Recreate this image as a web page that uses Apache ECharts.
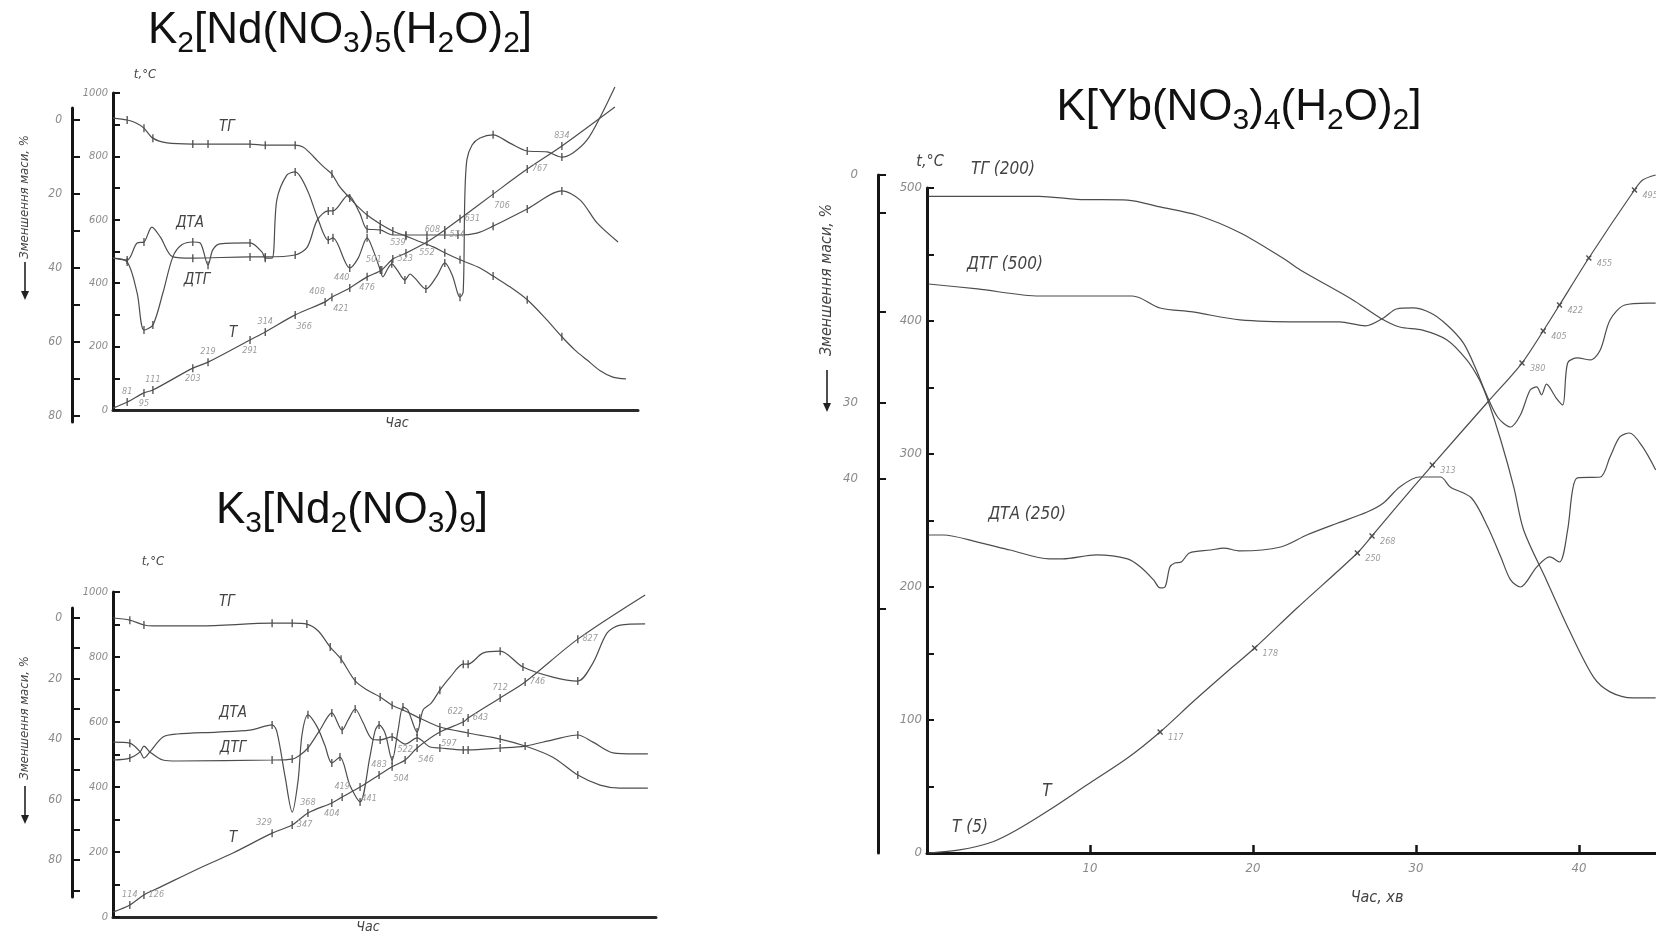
<!DOCTYPE html>
<html><head><meta charset="utf-8">
<script src="https://cdn.jsdelivr.net/npm/echarts@6/dist/echarts.min.js"></script>
<style>html,body{margin:0;padding:0;background:#fff}#c{width:1656px;height:938px}</style>
</head><body><div id="c"></div>
<script>
// ---------- tick labels ----------
const leftTempLabels = [0,200,400,600,800,1000];
const leftMassLabels = [0,20,40,60,80];
const ndMassTicks = [0,10,20,30,40,50,60,70,80];
const nd2MassTicks = [0,10,20,30,40,50,60,70,80,90];
const ybTempLabels = [0,100,200,300,400,500];
const ybMassLabels = [0,30,40];
const ybMassTicks = [0,5,18,30,40,57];
const ybTimeLabels = [10,20,30,40];

// ---------- K2[Nd(NO3)5(H2O)2]  (x: time, arbitrary 0..100; TG in mass %, others on t,°C scale) ----------
const ndTG = [[0,-0.5],[2.7,0,1],[4.4,0.8],[5.9,2.2,1],[7.6,4.9,1],[10.3,6.2],[15.2,6.5,1],[18.1,6.5,1],[26.1,6.5,1],[29.0,6.8,1],[34.7,6.8,1],[36.2,7.3],[37.5,8.9],[39.0,11.1],[40.4,13.0],[41.7,14.6,1],[43.2,18.1],[45.1,21.1,1],[46.7,23.5],[48.4,25.7,1],[50.9,28.1,1],[53.3,30.0,1],[55.8,31.4,1],[58.1,32.7],[61.0,34.3],[63.2,35.9,1],[66.1,37.8,1],[69.9,40.0],[72.4,42.2,1],[75.6,45.1],[78.9,48.6,1],[82.3,53.5],[85.5,58.6,1],[88.0,62.2],[90.3,64.9],[92.8,67.8],[95.2,69.5],[97.7,70.0]];
const ndDTA = [[0,479],[2.7,467,1],[4.6,369],[5.9,252,1],[7.6,268,1],[9.5,369],[11.4,483],[13.1,521],[15.2,530,1],[16.6,527],[18.1,457,1],[19.0,505],[20.4,524],[26.1,527,1],[28.4,498],[29.0,479,1],[30.3,479],[31.2,662],[33.1,741],[34.7,751,1],[37.0,694],[38.9,609],[41.0,536,1],[41.9,543,1],[45.1,448,1],[46.7,479],[48.4,543,1],[49.7,498],[50.9,442,1],[51.4,420],[52.4,448],[53.1,461,1],[54.1,442],[55.6,410,1],[56.6,429],[57.5,416],[59.6,382,1],[61.7,423],[63.2,464,1],[64.6,426],[65.7,366],[66.1,356,1],[66.7,372],[67.0,662],[67.4,789],[68.4,836],[69.9,858],[72.4,868,1],[75.6,842],[78.9,817,1],[82.7,814],[85.5,798,1],[87.6,811],[90.3,852],[92.8,924],[95.6,1019]];
const ndDTG = [[0,479],[2.7,473,1],[4.6,527],[5.9,530,1],[7.4,577],[9.0,546],[11.4,483],[15.2,479,1],[26.1,483,1],[29.0,483,1],[34.7,489,1],[37.0,514],[38.9,599],[41.0,628,1],[41.9,628,1],[44.8,678],[47.0,621],[48.4,571,1],[50.9,568,1],[53.3,552],[55.8,552,1],[59.8,552,1],[63.2,552,'574'],[65.7,552,1],[69.3,558],[72.4,580,1],[78.9,634,1],[85.5,691,1],[89.0,662],[92.2,590],[96.2,530]];
const ndT = [[0,6],[2.7,25,'81'],[5.9,54,'95'],[7.6,63,'111'],[15.2,132,'203'],[18.1,151,'219'],[26.1,221,'291'],[29.0,246,'314'],[34.7,300,'366'],[40.4,341,'408'],[41.7,356,'421'],[45.1,385,'440'],[48.4,420,'476'],[51.2,442,'501'],[53.3,476,'523'],[55.8,495,'539'],[59.8,530,'552'],[63.2,568,'608'],[66.1,603,'631'],[72.4,681,'706'],[78.9,760,'767'],[85.5,833,'834'],[95.6,956]];

// ---------- K3[Nd2(NO3)9] ----------
const nd2TG = [[0,0],[3.1,0.7,1],[5.7,2.3,1],[7.4,2.6],[16.0,2.6],[29.3,1.7,1],[33.0,1.7,1],[35.7,2.0,1],[37.8,4.3],[40.0,9.6,1],[42.0,13.6,1],[44.6,20.8,1],[46.8,23.8],[49.2,26.1,1],[51.4,28.8,1],[53.8,30.7],[56.5,33.1,1],[60.2,36.0,1],[65.4,38.0,1],[71.3,40.0,1],[75.9,42.3,1],[81.0,46.0],[85.6,51.9,1],[89.7,55.2],[93.4,56.2],[98.5,56.2]];
const nd2DTA = [[0,538],[3.1,535,1],[5.0,508],[5.7,489],[6.8,508],[9.2,554],[11.8,563],[19.2,569],[25.2,575],[29.3,591,1],[30.2,569],[31.7,431],[33.0,323],[34.1,422],[34.8,560],[35.9,622,1],[37.6,585],[39.0,529],[40.3,474,1],[41.8,492,1],[43.6,406],[45.5,354,1],[47.3,492],[48.3,575],[49.0,591,1],[50.1,566],[51.4,483,1],[52.5,575],[53.4,646,1],[54.3,637],[56.0,569,1],[57.1,637],[58.6,658],[60.2,698,1],[62.1,738],[64.5,778,1],[65.4,778,1],[68.1,812],[71.3,818,1],[75.5,769,1],[81.0,738],[85.6,726,1],[88.4,782],[91.0,874],[93.4,898],[98.0,902]];
const nd2DTG = [[0,483],[3.1,489,1],[5.0,508],[5.7,526],[6.8,508],[9.2,483],[11.8,480],[29.3,483,1],[33.0,486,1],[34.4,498],[35.9,520,1],[38.1,575],[40.3,628,1],[42.2,575,1],[43.3,606],[44.6,640,1],[46.0,600],[47.7,548],[49.2,545,1],[51.4,554,1],[53.8,532],[56.0,551,1],[58.4,523],[60.2,520,1],[64.5,514,1],[65.4,514,1],[71.3,520,1],[75.9,526],[81.0,545],[85.6,560,1],[88.4,538],[92.1,505],[96.1,502],[98.5,502]];
const nd2T = [[0,15],[3.1,37,'114'],[5.7,68,'126'],[8.7,92],[16.0,151],[22.1,197],[29.3,258,'329'],[33.0,283,'347'],[35.9,320,'368'],[40.3,351,'404'],[42.2,369,'419'],[45.5,400,'441'],[49.0,437,'483'],[51.4,462,'504'],[53.8,483,'522'],[56.0,520,'546'],[60.2,569,'597'],[64.5,600,'622'],[65.4,612,'643'],[71.3,674,'712'],[75.9,723,'746'],[85.6,855,'827'],[98.0,991]];

// ---------- K[Yb(NO3)4(H2O)2]  (x: time, min) ----------
const ybTG = [[0.1,2.8],[6.9,2.8],[9.2,3.2],[12.3,3.3],[14.3,4.2],[16.6,5.3],[19.2,7.6],[21.8,10.9],[22.9,12.5],[26.1,16.4],[27.8,18.8],[29.0,20.0],[30.4,20.4],[31.9,21.7],[33.1,24.3],[33.9,27.0],[34.4,29.6],[35.2,34.9],[36.0,41.1],[36.6,46.7],[38.0,53.3],[39.4,59.9],[40.9,66.1],[41.9,68.0],[43.3,68.8],[44.7,68.8]];
const ybDTG = [[0.1,427.8],[3.1,424.1],[6.9,418.8],[12.6,418.8],[14.3,409.8],[16.3,406.8],[19.2,400.8],[22.9,399.3],[25.3,399.3],[26.9,396.3],[28.0,402.3],[28.8,409.0],[29.8,409.8],[30.9,406.0],[31.9,397.0],[32.9,383.5],[33.7,363.2],[34.2,348.1],[35.0,327.8],[35.8,320.3],[36.4,329.3],[37.0,348.1],[37.4,350.4],[37.7,344.4],[38.0,352.6],[38.6,342.1],[39.0,336.9],[39.3,368.4],[39.9,372.2],[40.7,370.7],[41.3,378.2],[41.9,400.8],[42.8,412.0],[44.2,413.5],[44.7,413.5]];
const ybDTA = [[0.1,239.1],[1.0,239.1],[3.1,233.8],[5.1,227.8],[7.5,221.1],[8.3,221.1],[10.4,224.1],[12.3,221.1],[13.1,215.0],[13.9,205.3],[14.3,199.3],[14.6,200.0],[14.9,215.0],[15.2,218.1],[15.6,218.8],[16.1,225.6],[17.4,227.8],[18.2,229.3],[19.2,227.1],[21.7,230.1],[23.3,239.1],[25.2,248.1],[27.0,256.4],[28.0,263.2],[29.0,275.2],[30.2,282.7],[31.5,282.7],[32.1,275.2],[33.4,266.9],[34.4,245.1],[35.2,222.6],[35.8,205.3],[36.4,200.0],[37.4,215.0],[38.2,222.6],[38.8,218.8],[39.3,242.9],[39.6,272.9],[39.9,282.0],[41.3,282.7],[41.9,297.8],[42.5,312.8],[43.1,315.8],[43.9,305.3],[44.7,288.0]];
const ybT = [[0.1,0],[2.0,2.3],[4.0,8.3],[5.5,17.3],[7.5,32.3],[9.8,51.1],[12.3,71.4],[14.3,91.0,'117'],[16.3,113.5],[18.6,138.3],[20.1,154.1,'178'],[22.7,184.2],[26.4,225.6,'250'],[27.3,238.4,'268'],[28.8,260.2],[31.0,291.7,'313'],[34.4,339.1],[36.5,368.4,'380'],[37.8,392.5,'405'],[38.8,412.0,'422'],[40.6,447.4,'455'],[43.4,498.5,'495'],[43.9,506],[44.7,509.8]];

// ---------- styles ----------
const FONT = "'Liberation Sans Narrow','DejaVu Sans Condensed','DejaVu Sans',sans-serif";
const TFONT = "'Liberation Sans',Arial,sans-serif";
const GRAY = '#8a8a8a';
const LINE = '#4d4d4d';
const AX = '#151515';
const POS = {
  t:{position:'top',distance:2},
  b:{position:'bottom',distance:2},
  r:{position:'right',distance:4},
  l:{position:'left',distance:4},
  tl:{position:'top',distance:2,offset:[-8,0]},
  br:{position:'bottom',distance:3,offset:[9,0]},
  rb:{position:'right',distance:3,offset:[0,6]}
};
const sidesTop = {'81':'t','95':'b','111':'t','203':'b','219':'t','291':'b','314':'t','366':'br','408':'tl','421':'br','440':'tl','476':'b','501':'tl','523':'r','539':'tl','552':'b','574':'r','608':'l','631':'r','706':'br','767':'r','834':'t'};
const sidesBot = {'114':'t','126':'r','329':'tl','347':'r','368':'t','404':'b','419':'t','441':'br','483':'t','504':'br','522':'t','546':'br','597':'br','622':'tl','643':'r','712':'t','746':'r','827':'r'};
const sidesYb = {'117':'rb','178':'rb','250':'rb','268':'rb','313':'rb','380':'rb','405':'rb','422':'rb','455':'rb','495':'rb'};
const DASH = {symbol:'rect', size:[1.3,8]};
const CROSS = {symbol:'path://M4,0L6,0L6,4L10,4L10,6L6,6L6,10L4,10L4,6L0,6L0,4L4,4Z', size:7, rotate:45};

function pts(arr, sides, mark){
  return arr.map(p=>{
    const f=p[2]; const it={value:[p[0],p[1]]};
    if(f){ it.symbol=mark.symbol; it.symbolSize=mark.size; if(mark.rotate!=null) it.symbolRotate=mark.rotate; }
    else it.symbol='none';
    if(typeof f==='string') it.label=Object.assign({show:true,formatter:f},POS[sides[f]||'t']);
    return it;
  });
}
function curve(arr, xi, yi, sides, mark, fs){
  return {type:'line', xAxisIndex:xi, yAxisIndex:yi, data:pts(arr, sides||{}, mark||DASH),
    smooth:0.3, clip:false, silent:true, animation:false, showSymbol:true,
    lineStyle:{color:LINE,width:1.2}, itemStyle:{color:LINE},
    label:{show:false,fontSize:fs||9,color:'#9c9c9c',fontStyle:'italic',fontFamily:FONT},
    emphasis:{disabled:true}};
}
function tempAx(g,min,max,interval,labels,fs){
  return {gridIndex:g,type:'value',min,max,interval,
    axisLine:{show:true,onZero:false,lineStyle:{color:AX,width:3}},
    axisTick:{show:true,inside:true,length:7,lineStyle:{color:AX,width:2}},
    axisLabel:{customValues:labels,color:GRAY,fontStyle:'italic',fontFamily:FONT,fontSize:fs,margin:5,
      formatter:v=>labels.indexOf(v)>=0?String(v):''},
    splitLine:{show:false}};
}
function massAx(g,min,max,ticks,labels,fs,margin){
  return {gridIndex:g,type:'value',inverse:true,min,max,
    axisLine:{show:true,onZero:false,lineStyle:{color:AX,width:3}},
    axisTick:{show:true,inside:true,length:8,customValues:ticks,lineStyle:{color:AX,width:2}},
    axisLabel:{customValues:labels,color:GRAY,fontStyle:'italic',fontFamily:FONT,fontSize:fs,margin:margin||10},
    splitLine:{show:false}};
}
function hiddenY(g,min,max){ return {gridIndex:g,type:'value',show:false,inverse:true,min,max}; }
function hiddenX(g){ return {gridIndex:g,type:'value',show:false,min:0,max:1}; }
function timeAx(g,max){
  return {gridIndex:g,type:'value',min:0,max,
    axisLine:{show:true,onZero:false,lineStyle:{color:'#2a2a2a',width:3}},
    axisTick:{show:false},axisLabel:{show:false},splitLine:{show:false}};
}
function txt(x,y,text,size,color,rot){
  return {type:'text',x,y,rotation:rot||0,silent:true,style:{text,fill:color,font:'italic '+size+'px '+FONT,
    textAlign:'center',textVerticalAlign:'middle',align:'center',verticalAlign:'middle'}};
}
function title(x,y,rich){
  return {type:'text',x,y,silent:true,style:{text:rich,fill:'#111',align:'center',verticalAlign:'middle',
    textAlign:'center',textVerticalAlign:'middle',
    rich:{m:{fontSize:44,fontFamily:TFONT,lineHeight:48,verticalAlign:'top',fill:'#111',color:'#111'},
          s:{fontSize:30,fontFamily:TFONT,lineHeight:30,padding:[20,0,0,0],verticalAlign:'top',fill:'#111',color:'#111'}}}};
}
function arrow(x,y1,y2){
  return [{type:'line',silent:true,shape:{x1:x,y1:y1,x2:x,y2:y2-6},style:{stroke:'#222',lineWidth:1.6}},
          {type:'polygon',silent:true,shape:{points:[[x-4,y2-9],[x+4,y2-9],[x,y2]]},style:{fill:'#222'}}];
}

const chart = echarts.init(document.getElementById('c'), null, {renderer:'canvas'});
chart.setOption({
  backgroundColor:'#ffffff',
  animation:false,
  grid:[
    {left:113,top:93,width:525,height:317,outerBoundsMode:'none'},
    {left:72,top:108,width:10,height:314,outerBoundsMode:'none'},
    {left:113,top:592,width:543,height:325,outerBoundsMode:'none'},
    {left:72,top:608,width:10,height:289,outerBoundsMode:'none'},
    {left:927,top:188,width:729,height:665,outerBoundsMode:'none'},
    {left:878,top:175,width:10,height:678,outerBoundsMode:'none'}
  ],
  xAxis:[
    timeAx(0,100), hiddenX(1), timeAx(2,100), hiddenX(3),
    {gridIndex:4,type:'value',min:0,max:44.72,
      axisLine:{show:true,onZero:false,lineStyle:{color:AX,width:3}},
      axisTick:{show:true,inside:true,length:8,customValues:ybTimeLabels,lineStyle:{color:AX,width:2.5}},
      axisLabel:{customValues:ybTimeLabels,color:GRAY,fontStyle:'italic',fontFamily:FONT,fontSize:13,margin:9,
        formatter:v=>ybTimeLabels.indexOf(v)>=0?String(v):''},
      splitLine:{show:false}},
    hiddenX(5)
  ],
  yAxis:[
    tempAx(0,0,1000,100,leftTempLabels,11),
    hiddenY(0,-7.3,78.4),
    massAx(1,-3.24,81.6,ndMassTicks,leftMassLabels,12),
    tempAx(2,0,1000,100,leftTempLabels,11),
    hiddenY(2,-8.6,98.8),
    massAx(3,-3.3,92.2,nd2MassTicks,leftMassLabels,12),
    tempAx(4,0,500,50,ybTempLabels,13),
    hiddenY(4,1.71,89.2),
    massAx(5,0,89.2,ybMassTicks,ybMassLabels,13,20)
  ],
  series:[
    curve(ndTG,0,1), curve(ndDTA,0,0), curve(ndDTG,0,0,sidesTop), curve(ndT,0,0,sidesTop),
    curve(nd2TG,2,4), curve(nd2DTA,2,3), curve(nd2DTG,2,3), curve(nd2T,2,3,sidesBot),
    curve(ybTG,4,7,null,CROSS), curve(ybDTA,4,6,null,CROSS), curve(ybDTG,4,6,null,CROSS), curve(ybT,4,6,sidesYb,CROSS,9)
  ],
  graphic:[
    title(340,33,'{m|K}{s|2}{m|[Nd(NO}{s|3}{m|)}{s|5}{m|(H}{s|2}{m|O)}{s|2}{m|]}'),
    title(1239,110,'{m|K[Yb(NO}{s|3}{m|)}{s|4}{m|(H}{s|2}{m|O)}{s|2}{m|]}'),
    title(352,513,'{m|K}{s|3}{m|[Nd}{s|2}{m|(NO}{s|3}{m|)}{s|9}{m|]}'),
    // top-left panel
    txt(145,75,'t,°C',13,'#444'),
    txt(227,127,'ТГ',15,'#444'), txt(190,223,'ДТА',15,'#444'), txt(197,280,'ДТГ',15,'#444'), txt(233,333,'T',15,'#444'),
    txt(397,423,'Час',14,'#444'),
    txt(25,197,'Зменшення маси, %',13,'#444',Math.PI/2),
    ...arrow(25,262,300),
    // bottom-left panel
    txt(153,562,'t,°C',13,'#444'),
    txt(227,602,'ТГ',15,'#444'), txt(233,713,'ДТА',15,'#444'), txt(233,748,'ДТГ',15,'#444'), txt(233,838,'T',15,'#444'),
    txt(368,927,'Час',14,'#444'),
    txt(25,718,'Зменшення маси, %',13,'#444',Math.PI/2),
    ...arrow(25,786,824),
    // right panel
    txt(930,162,'t,°C',16,'#444'),
    txt(1003,170,'ТГ (200)',17,'#444'), txt(1005,265,'ДТГ (500)',17,'#444'), txt(1027,515,'ДТА (250)',17,'#444'),
    txt(1047,792,'T',17,'#444'), txt(970,828,'T (5)',17,'#444'),
    txt(1377,898,'Час, хв',16,'#444'),
    txt(827,280,'Зменшення маси, %',16,'#444',Math.PI/2),
    ...arrow(827,370,412)
  ]
});
</script></body></html>
